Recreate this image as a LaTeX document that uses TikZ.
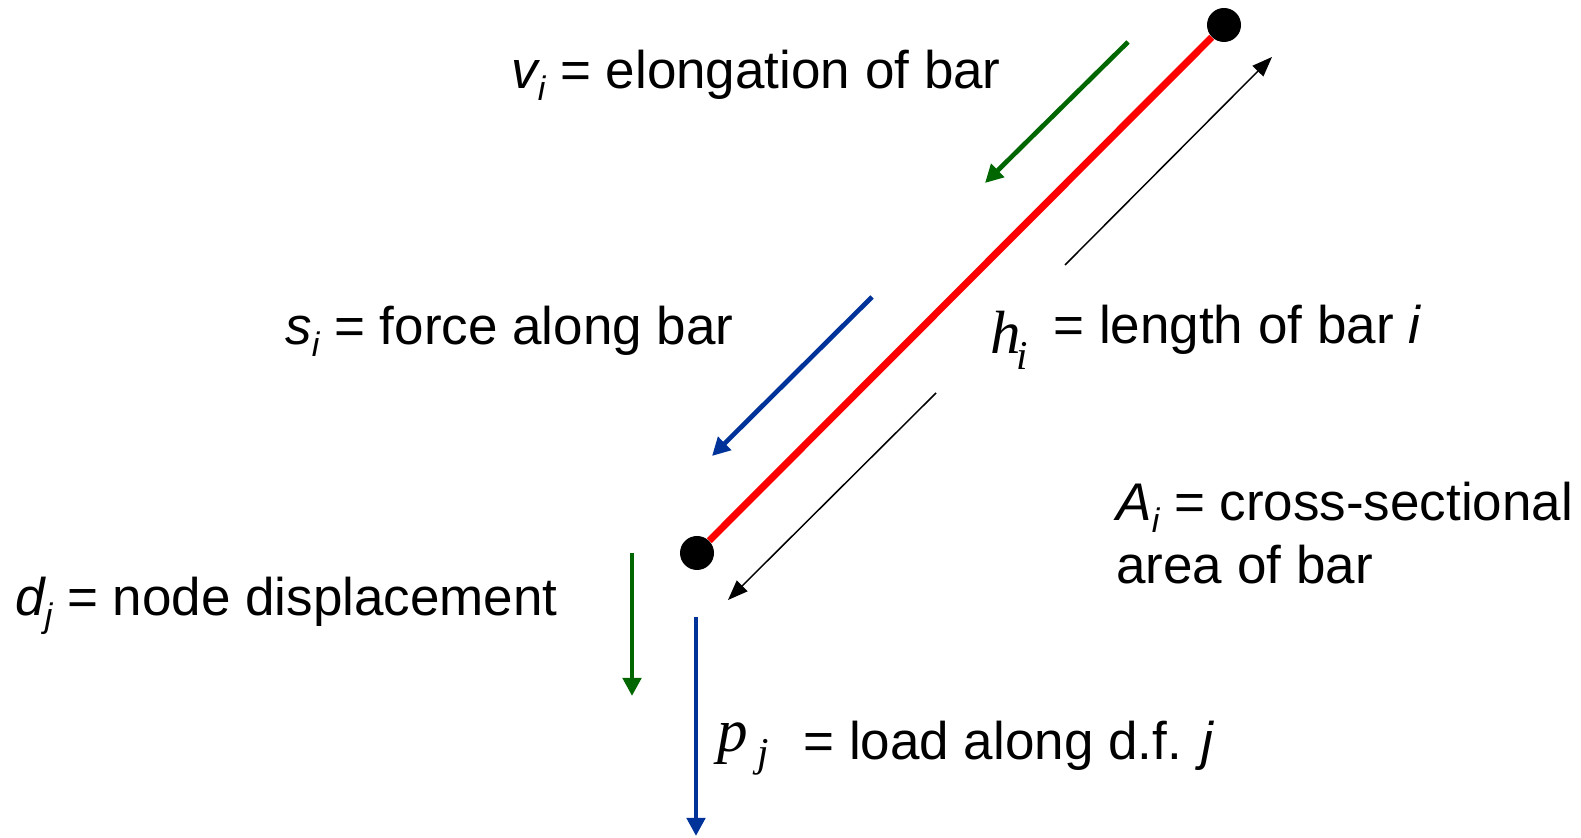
\documentclass[tikz,border=0pt]{standalone}
\usepackage{fontspec}
\setmainfont{Liberation Sans}
\newfontfamily\tnr{Liberation Serif}[ItalicFont={Liberation Serif Italic}]
\usetikzlibrary{arrows.meta}
\definecolor{dgreen}{RGB}{0,102,0}
\definecolor{dblue}{RGB}{0,51,153}
\definecolor{bred}{RGB}{255,0,0}
\newcommand\lsub[1]{\raisebox{-0.22em}{\fontsize{17}{17}\selectfont\itshape #1}}
\newcommand\ssub[1]{{\fontsize{20.5}{24}\selectfont\tnr\itshape #1}}
\begin{document}
\begin{tikzpicture}[x=0.5pt,y=-0.5pt,
 lbl/.style={anchor=base west, inner sep=0, font=\fontsize{26.5}{32}\selectfont},
 sym/.style={anchor=base west, inner sep=0, font=\fontsize{30.5}{36}\selectfont\tnr\itshape},
 joint/.style={circle, fill=black, inner sep=0, minimum size=17pt},
 bar/.style={bred, line width=3.5pt},
 thickarrow/.style={line width=2.35pt, -{Triangle[length=9pt,width=9pt]}},
 thinarrow/.style={line width=0.75pt, -{Triangle[length=10pt,width=7.5pt]}}]
\useasboundingbox (0,0) rectangle (1581,838);
% joints and bar
\node[joint] (top) at (1224,25) {};
\node[joint] (bot) at (697,553) {};
\draw[bar] (top) -- (bot);
% arrow end points
\coordinate (g1s) at (1128,42);  \coordinate (g1e) at (985,183);
\coordinate (kus) at (1065,265); \coordinate (kue) at (1272,57);
\coordinate (b1s) at (872,297);  \coordinate (b1e) at (712,456);
\coordinate (kds) at (936,393);  \coordinate (kde) at (728,600);
\coordinate (g2s) at (632,553);  \coordinate (g2e) at (632,696);
\coordinate (b2s) at (696,617);  \coordinate (b2e) at (696,836);
\draw[thickarrow, dgreen] (g1s) -- (g1e);
\draw[thinarrow] (kus) -- (kue);
\draw[thickarrow, dblue] (b1s) -- (b1e);
\draw[thinarrow] (kds) -- (kde);
\draw[thickarrow, dgreen] (g2s) -- (g2e);
\draw[thickarrow, dblue] (b2s) -- (b2e);
% labels
\node[lbl] (vlab) at (511,89) {{\itshape v}\lsub{i} = elongation of bar};
\node[lbl] (slab) at (285,345) {{\itshape s}\lsub{i} = force along bar};
\node[sym] (hsym) at (990,354) {h\kern-2pt\raisebox{-8pt}{\ssub{i}}};
\node[lbl] (hlab) at (1053,344) {= length of bar \textit{i}};
\node[lbl] (alab1) at (1116,521) {{\itshape A}\lsub{i} = cross-sectional};
\node[lbl] (alab2) at (1116,584) {area of bar};
\node[lbl] (dlab) at (15,616) {{\itshape d}\lsub{j} = node displacement};
\node[sym] (psym) at (717,752) {p\kern5pt\raisebox{-7.5pt}{\ssub{j}}};
\node[lbl] (plab) at (803,760) {= load along d.f. \textit{j}};
\end{tikzpicture}
\end{document}
